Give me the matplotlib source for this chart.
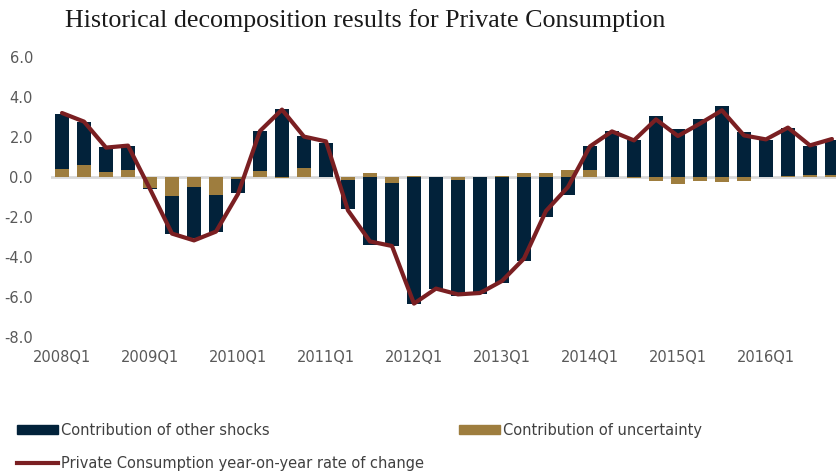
import matplotlib.pyplot as plt
from matplotlib.patches import Patch
from matplotlib.lines import Line2D
import numpy as np

plt.rcParams['axes.unicode_minus'] = False

# данные: квартальные вклады и темп роста
quarters = [f"{y}Q{q}" for y in range(2008, 2017) for q in range(1, 5)]
uncertainty = [0.40, 0.60, 0.27, 0.35, -0.55, -0.95, -0.48, -0.90, -0.10, 0.30,
               -0.05, 0.45, 0.00, -0.17, 0.22, -0.30, 0.03, 0.00, -0.13, 0.00,
               0.05, 0.22, 0.20, 0.37, 0.33, 0.02, -0.05, -0.20, -0.33, -0.18,
               -0.23, -0.20, 0.02, 0.05, 0.08, 0.12]
other = [2.77, 2.15, 1.23, 1.20, -0.05, -1.88, -2.55, -1.83, -0.70, 2.00,
         3.40, 1.58, 1.70, -1.45, -3.42, -3.17, -6.33, -5.58, -5.84, -5.83,
         -5.28, -4.20, -2.00, -0.88, 1.20, 2.28, 1.87, 3.05, 2.42, 2.92,
         3.55, 2.25, 1.85, 2.40, 1.49, 1.75]
yoy = [3.20, 2.77, 1.47, 1.57, -0.60, -2.83, -3.17, -2.73, -0.85, 2.30,
       3.37, 2.02, 1.78, -1.67, -3.22, -3.45, -6.33, -5.58, -5.87, -5.80,
       -5.20, -4.08, -1.70, -0.50, 1.53, 2.28, 1.83, 2.88, 2.05, 2.67,
       3.33, 2.08, 1.88, 2.47, 1.58, 1.90]

navy = '#02223A'
gold = '#9E7D3E'
red = '#7A1F22'

x = np.arange(len(quarters))
unc = np.array(uncertainty)
oth = np.array(other)
# прочие шоки ставятся поверх неопределенности, если знак совпадает
base = np.where(np.sign(unc) == np.sign(oth), unc, 0)

fig = plt.figure(figsize=(8.37, 4.73), dpi=100)
ax = fig.add_axes([51 / 837, 1 - 337 / 473, 786 / 837, 280 / 473])

ax.bar(x, unc, width=0.64, color=gold, zorder=2)
ax.bar(x, oth, width=0.64, bottom=base, color=navy, zorder=2)
ax.axhline(0, color='#D9D9D9', lw=2, zorder=1)
ax.plot(x, yoy, color=red, lw=3, zorder=3, solid_capstyle='round')

ax.set_xlim(-0.5, 35.23)
ax.set_ylim(-8, 6)
ax.set_yticks(np.arange(-8, 7, 2))
ax.set_yticklabels([f"{v:.1f}" for v in np.arange(-8, 7, 2)])
ax.set_xticks(x[::4])
ax.set_xticklabels(quarters[::4])
for s in ax.spines.values():
    s.set_visible(False)
ax.tick_params(length=0, labelsize=10.5, labelcolor='#595959')
ax.tick_params(axis='y', pad=13)
ax.tick_params(axis='x', pad=9)

fig.text(65 / 837, 1 - 21 / 473, 'Historical decomposition results for Private Consumption',
         family='Liberation Serif', fontsize=18.7, va='center', ha='left', color='#1a1a1a')

leg_kw = dict(frameon=False, fontsize=10.5, handlelength=2.8, handleheight=0.6,
              handletextpad=0.2, borderpad=0, borderaxespad=0, labelcolor='#404040',
              loc='center left')
fig.legend([Patch(color=navy)], ['Contribution of other shocks'],
           bbox_to_anchor=(17 / 837, 1 - 430 / 473), **leg_kw)
fig.legend([Patch(color=gold)], ['Contribution of uncertainty'],
           bbox_to_anchor=(459 / 837, 1 - 430 / 473), **leg_kw)
fig.legend([Line2D([0], [0], color=red, lw=3)], ['Private Consumption year-on-year rate of change'],
           bbox_to_anchor=(17 / 837, 1 - 463 / 473), **leg_kw)

plt.savefig('out.png', dpi=100)
